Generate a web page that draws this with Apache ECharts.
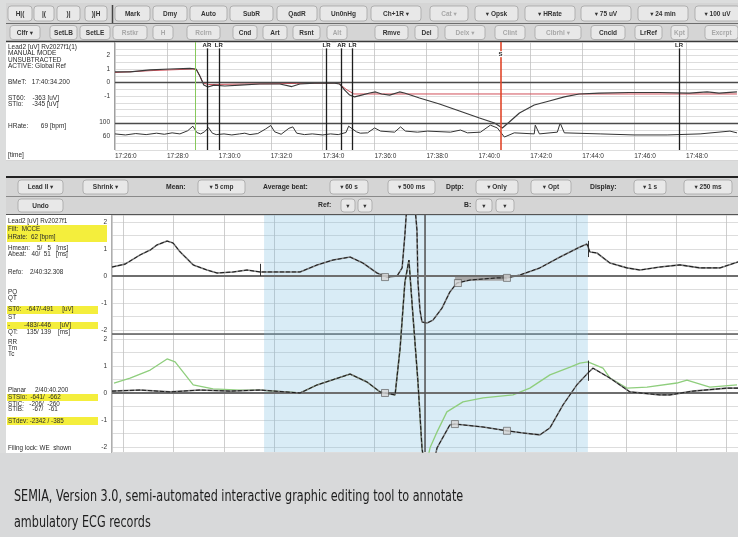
<!DOCTYPE html>
<html><head><meta charset="utf-8">
<script src="https://cdn.jsdelivr.net/npm/echarts@6/dist/echarts.min.js"></script>
<style>html,body{margin:0;padding:0;background:#dcdddd;}#c{width:738px;height:537px;}</style>
</head><body><div id="c"></div>
<script>
// ================= DATA =================
// Trend panel (minutes after 17:26:00)
const timeTickLabels = ['17:26:0','17:28:0','17:30:0','17:32:0','17:34:0','17:36:0','17:38:0','17:40:0','17:42:0','17:44:0','17:46:0','17:48:0'];
const stTickLabels = [2, 1, 0, -1];
const hrTickLabels = [100, 60];
// ST level trend [min, value]
const stTrend = [[0,0.78],[0.58,0.78],[1.35,0.93],[2.12,1.0],[2.88,1.04],[3.12,1.0],[3.27,0.48],[3.42,-0.19],[3.58,-0.33],[3.81,-0.19],[4.23,-0.26],[4.81,-0.19],[5.58,-0.11],[6.35,-0.11],[6.81,-0.3],[7.12,-0.11],[7.69,-0.04],[8.46,-0.04],[8.65,-0.11],[8.85,-0.56],[9.04,-0.93],[9.23,-1.07],[9.5,-0.93],[9.81,-0.78],[10.04,-0.7],[10.27,-0.85],[10.58,-0.93],[10.96,-0.7],[11.15,-0.78],[11.73,-1.15],[12.5,-1.59],[13.27,-2.11],[14.04,-2.63],[14.62,-3.0],[14.92,-3.37],[15.19,-2.93],[15.58,-2.26],[16.15,-1.67],[16.73,-1.37],[17.31,-1.07],[17.88,-0.85],[18.65,-0.78],[19.81,-0.74],[20.96,-0.74],[22.12,-0.78],[22.81,-0.7],[23.27,-0.78],[23.96,-0.7]];
// ST reference trend
const stReference = [[0,0.74],[1.5,0.89],[3.0,1.0],[3.15,0.93],[3.4,-0.04],[3.6,-0.15],[5.0,-0.11],[7.0,-0.07],[8.6,-0.04],[8.9,-0.5],[9.2,-0.85],[23.96,-0.85]];
// Heart rate trend [min, bpm]
const hrTrend = [[0,66],[0.4,63],[0.8,67],[1.2,64],[1.6,68],[1.9,65],[2.2,69],[2.5,66],[2.8,75],[3.0,88],[3.15,70],[3.3,66],[3.45,72],[3.6,84],[3.75,68],[3.9,64],[4.2,66],[4.5,63],[4.8,66],[5.0,68],[5.2,64],[5.5,67],[5.8,80],[6.0,90],[6.15,72],[6.4,65],[6.7,82],[6.85,86],[7.0,68],[7.3,64],[7.6,66],[8.0,63],[8.3,66],[8.6,64],[8.9,70],[9.0,88],[9.15,80],[9.3,72],[9.45,68],[9.73,69],[10.0,83],[10.23,74],[10.77,71],[11.0,86],[11.19,74],[11.65,71],[12.04,74],[12.92,71],[13.31,77],[13.58,69],[14.08,71],[14.46,91],[14.73,83],[15.0,57],[15.38,69],[16.15,66],[16.19,91],[16.35,66],[17.04,71],[17.15,97],[17.31,69],[18.69,66],[20.0,63],[21.27,63],[22.54,66],[23.69,74],[23.96,69]];
// Event markers
const markerTimes = [3.08, 3.54, 4.0, 8.15, 8.73, 9.15, 14.85, 21.73];
const markerNames = ['', 'AR', 'LR', 'LR', 'AR', 'LR', 'S', 'LR'];
const markerKinds = ['cursor', 'event', 'event', 'event', 'event', 'event', 'selected', 'event'];

// Average beat panel [ms from fiducial, mV]
const ecgTickLabels = [2, 1, 0, -1, -2];
const beatUpper = [[-1245,0.33],[-1193,0.44],[-1133,0.78],[-1093,0.96],[-1066,1.15],[-1026,1.29],[-1002,1.22],[-974,0.89],[-922,0.41],[-867,0.22],[-827,0.11],[-763,0.15],[-708,0.22],[-656,0.15],[-588,0.15],[-497,0.15],[-429,0.41],[-366,0.59],[-298,0.7],[-247,0.48],[-191,0.11],[-151,-0.04],[-111,0],[-91,0.3],[-80,1.52],[-72,2.62],[-60,3.2],[-44,3.0],[-32,1.7],[-28,-0.22],[-20,-1.26],[-12,-1.7],[8,-1.74],[32,-1.63],[68,-1.18],[99,-0.59],[127,-0.26],[179,-0.15],[231,-0.11],[286,-0.07],[326,-0.07],[378,0.04],[457,0.3],[537,0.7],[616,1.07],[644,1.18],[656,0.89],[684,0.85],[736,0.48],[803,0.3],[855,0.22],[934,0.33],[1014,0.41],[1093,0.3],[1173,0.3],[1245,0.52]];
const beatLowerDark = [[-1245,0.07],[-1133,0.11],[-1014,0.04],[-895,0.11],[-775,0.07],[-656,0.11],[-497,0],[-429,0.3],[-298,0.7],[-231,0.41],[-179,0.04],[-159,0],[-119,-0.07],[-99,1.66],[-80,4.1],[-64,4.92],[-48,2.88],[-28,0.41],[-12,-2.03],[0,-2.85],[28,-2.85],[48,-2.03],[99,-1.18],[119,-1.15],[231,-1.26],[326,-1.4],[390,-1.48],[457,-1.55],[497,-1.29],[549,-0.44],[604,0.3],[648,0.74],[668,0.92],[736,0.55],[815,0.04],[934,-0.07],[974,-0.07],[1066,0.07],[1201,0.18],[1245,0.18]];
const beatLowerRef = [[-1237,0.37],[-1173,0.55],[-1093,0.85],[-1026,1.26],[-994,1.15],[-922,0.3],[-843,0.15],[-736,0.11],[-656,0.11],[-497,0],[-429,0.3],[-298,0.7],[-231,0.41],[-179,0.04],[-119,-0.07],[-99,1.66],[-80,4.1],[-64,4.92],[-48,2.88],[-28,0.41],[-12,-2.03],[0,-2.9],[20,-2.03],[48,-1.44],[87,-0.7],[151,-0.33],[231,-0.18],[350,-0.07],[417,0.18],[497,0.67],[577,0.96],[616,1.11],[648,1.15],[708,0.92],[736,0.55],[803,0.18],[883,0.22],[1002,0.37],[1042,0.48],[1133,0.22],[1241,0.3]];
const fiducialsUpper = [[-159,-0.04],[131,-0.26],[326,-0.07]];
const fiducialsLower = [[-159,0],[119,-1.15],[326,-1.4]];
const analysisWindow = [-640, 648];
const stSegment = [119, 326, -0.18, -0.04];
const tWavePeak = 648;
const beatStart = -655;

// ================= LAYOUT / CHROME =================
const FONT = '"Liberation Sans", "DejaVu Sans", sans-serif';
const G = [];
function rect(x, y, w, h, fill, stroke, r, z) {
  G.push({type:'rect', z: z == null ? -20 : z, silent:true, shape:{x, y, width:w, height:h, r:r||0}, style:{fill, stroke: stroke||null, lineWidth: stroke?0.8:0}});
}
function hline(x1, x2, y, color, w, z) {
  G.push({type:'line', z: z == null ? -5 : z, silent:true, shape:{x1, y1:y, x2, y2:y}, style:{stroke:color, lineWidth:w}});
}
function vline(x, y1, y2, color, w, z) {
  G.push({type:'line', z: z == null ? -5 : z, silent:true, shape:{x1:x, y1, x2:x, y2}, style:{stroke:color, lineWidth:w}});
}
function txt(x, y, s, opt) {
  opt = opt || {};
  G.push({type:'text', z: 30, silent:true, x, y, scaleX: opt.sx || 1,
    style:{text:s, fill: opt.color || '#2a2a2a', font: (opt.bold?'bold ':'') + (opt.size||7) + 'px ' + (opt.family||FONT),
      align: opt.align || 'left', verticalAlign: 'middle'}});
}
function btn(x, y, w, h, s, dis) {
  rect(x, y, w, h, '#e8e8e8', '#a5a5a5', 3, -15);
  txt(x + w/2, y + h/2 + 0.5, s, {bold:true, size:6.5, align:'center', color: dis ? '#a8a8a8' : '#333'});
}

// top window
rect(6, 3, 732, 158, '#d5d5d5');
rect(6, 42, 732, 118, '#ffffff', null, 0, -19);
hline(6, 738, 23.5, '#6d6d6d', 1);
hline(6, 738, 41.5, '#3a3a3a', 1.5);
vline(112.5, 5, 23, '#444', 1.5);
vline(114.5, 42, 150, '#888', 0.8);
[[8,24,'H|('],[34,20,'|('],[57,23,')|'],[85,22,')|H'],[115,35,'Mark'],[153,34,'Dmy'],[190,37,'Auto'],[230,43,'SubR'],[277,40,'QadR'],[320,47,'Un0nHg'],[371,50,'Ch+1R ▾'],[430,38,'Cat ▾',1],[475,43,'▾ Opsk'],[525,50,'▾ HRate'],[581,50,'▾ 75 uV'],[638,50,'▾ 24 min'],[695,45,'▾ 100 uV']]
  .forEach(b => btn(b[0], 6, b[1], 15, b[2], b[3]));
[[10,30,'Clfr ▾'],[50,27,'SetLB'],[80,30,'SetLE'],[113,34,'Rstkr',1],[153,20,'H',1],[187,33,'Rclrn',1],[233,24,'Cnd'],[263,24,'Art'],[293,27,'Rsnt'],[327,20,'Alt',1],[375,33,'Rmve'],[415,23,'Del'],[445,40,'Delx ▾',1],[495,30,'Clint',1],[535,46,'Clbrhl ▾',1],[591,34,'Cncld'],[635,27,'LrRef'],[671,17,'Kpt',1],[705,33,'Excrpt',1]]
  .forEach(b => btn(b[0], 25.5, b[1], 14, b[2], b[3]));
// top info panel
[['Lead2 [uV] Rv2027f1(1)',47],['MANUAL MODE',53.5],['UNSUBTRACTED',60],['ACTIVE: Global Ref',66.5],['BMeT:   17:40:34.200',82],['ST60:    -363 [uV]',98.5],['STlo:     -345 [uV]',104.5],['HRate:       69 [bpm]',126],['[time]',155]]
  .forEach(t => txt(8, t[1], t[0], {size:6.5}));

// bottom window
rect(6, 177, 732, 277, '#d5d5d5');
rect(6, 215, 732, 238, '#ffffff', null, 0, -19);
hline(6, 738, 177, '#222', 2);
hline(6, 738, 196.5, '#8a8a8a', 1);
hline(6, 738, 214.5, '#555', 1.2);
hline(112, 738, 334, '#5a5a5a', 1.6, 1);
vline(111.5, 215, 453, '#999', 0.8);
[[18,45,'Lead II ▾'],[83,45,'Shrink ▾'],[198,47,'▾ 5 cmp'],[330,38,'▾ 60 s'],[388,47,'▾ 500 ms'],[476,42,'▾ Only'],[531,40,'▾ Opt'],[634,32,'▾ 1 s'],[684,48,'▾ 250 ms']]
  .forEach(b => btn(b[0], 180, b[1], 14, b[2], b[3]));
[['Mean:',166],['Average beat:',263],['Dptp:',446],['Display:',590]].forEach(t => txt(t[1], 187.5, t[0], {bold:true, size:6.8}));
[[18,45,'Undo'],[341,14,'▾'],[358,14,'▾'],[476,16,'▾'],[496,18,'▾']].forEach(b => btn(b[0], 199, b[1], 13, b[2], b[3]));
txt(318, 205.5, 'Ref:', {bold:true, size:6.8});
txt(464, 205.5, 'B:', {bold:true, size:6.8});
// bottom info panel
[[225,17,100],[306,8,91],[322,7,91],[394,7,91],[417,8,91]].forEach(h => rect(7, h[0], h[2], h[1], '#f4ee3c', null, 0, -10));
[['Lead2 [uV] Rv2027f1',221],['Filt:  MCCE',229.5],['HRate:  62 [bpm]',237.5],['Hmean:    5/   5   [ms]',248],['Abeat:   40/  51   [ms]',254],['Refo:    2/40:32.308',272],['PQ',292],['QT',298],['ST0:   -647/-491     [uV]',309.5],['ST',317],['-        -483/-446     [uV]',325.5],['QT:     135/ 139    [ms]',332],['RR',342],['Tm',348],['Tc',354],['Planar     2/40:40.200',390],['STSlo:  -641/  -662',397.5],['STIC:   -206/  -260',404],['STIB:     -67/   -61',409.5],['STdev: -2342 / -385',421],['Filing lock: WE  shown',448]]
  .forEach(t => txt(8, t[1], t[0], {size:6.3}));

// caption
rect(0, 453, 738, 84, '#d8d9da', null, 0, -20);
const CAP = '"Liberation Sans Narrow", "DejaVu Sans Condensed", "Roboto", sans-serif';
txt(14, 497, 'SEMIA, Version 3.0, semi-automated interactive graphic editing tool to annotate', {size:16.5, family:CAP, color:'#1c1c1c', sx:0.755});
txt(14, 523, 'ambulatory ECG records', {size:16.5, family:CAP, color:'#1c1c1c', sx:0.755});

// ================= CHART =================
const lblFmt = (set) => (v) => set.some(s => Math.abs(s - v) < 1e-6) ? String(Math.round(v)) : '';
const splitH = {show:true, lineStyle:{color:'#cfcfcf', width:0.7}};
const splitV = {show:true, lineStyle:{color:'#c2c2c2', width:0.8}};
const yLabel = {show:true, fontSize:6.5, color:'#333', margin:5, fontFamily:FONT};

const markerStyle = {
  cursor:   {color:'#86c95a', width:1},
  event:    {color:'#1e1e1e', width:1.3},
  selected: {color:'#e0462a', width:1.6}
};

const option = {
  animation: false,
  backgroundColor: '#dcdddd',
  graphic: {elements: G},
  grid: [
    {left:115, top:42, width:623, height:108},   // ST trend
    {left:115, top:122, width:623, height:28},   // HR trend
    {left:112, top:215, width:626, height:119},  // beat upper
    {left:112, top:334, width:626, height:118},  // beat lower (grid lines)
    {left:112, top:215, width:626, height:237}   // beat lower traces
  ],
  xAxis: [
    {gridIndex:0, type:'value', min:0, max:24, interval:2, axisLine:{show:false}, axisTick:{show:false}, splitLine:splitV,
      axisLabel:{show:true, align:'left', fontSize:6.5, color:'#333', margin:3, showMaxLabel:false, fontFamily:FONT,
        formatter:(v) => timeTickLabels[Math.round(v/2)] || ''}},
    {gridIndex:1, type:'value', min:0, max:24, show:false},
    {gridIndex:2, type:'value', min:-1245, max:1245, splitNumber:12, minInterval:200, maxInterval:200, axisLine:{show:false}, axisTick:{show:false}, axisLabel:{show:false}, splitLine:splitV},
    {gridIndex:3, type:'value', min:-1245, max:1245, splitNumber:12, minInterval:200, maxInterval:200, axisLine:{show:false}, axisTick:{show:false}, axisLabel:{show:false}, splitLine:splitV},
    {gridIndex:4, type:'value', min:-1245, max:1245, show:false}
  ],
  yAxis: [
    {gridIndex:0, type:'value', min:-5, max:3, interval:0.5, axisLine:{show:false}, axisTick:{show:false}, splitLine:splitH,
      axisLabel:Object.assign({formatter:lblFmt(stTickLabels)}, yLabel)},
    {gridIndex:1, type:'value', min:20, max:100, interval:20, axisLine:{show:false}, axisTick:{show:false}, splitLine:{show:false},
      axisLabel:Object.assign({formatter:lblFmt(hrTickLabels)}, yLabel)},
    {gridIndex:2, type:'value', min:-2.144, max:2.255, splitNumber:9, minInterval:0.5, maxInterval:0.5, axisLine:{show:false}, axisTick:{show:false}, splitLine:splitH,
      axisLabel:Object.assign({formatter:lblFmt(ecgTickLabels), showMinLabel:true, showMaxLabel:true}, yLabel)},
    {gridIndex:3, type:'value', min:-2.185, max:2.185, splitNumber:9, minInterval:0.5, maxInterval:0.5, axisLine:{show:false}, axisTick:{show:false}, splitLine:splitH,
      axisLabel:Object.assign({formatter:lblFmt(ecgTickLabels), showMinLabel:true, showMaxLabel:true}, yLabel)},
    {gridIndex:4, type:'value', min:-2.185, max:6.592, show:false}
  ],
  series: [
    // ---- trend ----
    {type:'line', xAxisIndex:0, yAxisIndex:0, data:stReference, symbol:'none', clip:false, lineStyle:{color:'#d0505a', width:1}, z:3},
    {type:'line', xAxisIndex:0, yAxisIndex:0, data:stTrend, symbol:'none', clip:false, lineStyle:{color:'#3a3a3a', width:1.2}, z:4,
      markLine:{silent:true, symbol:['none','none'], label:{show:false},
        data:[{yAxis:0, lineStyle:{color:'#4a4a4a', width:1.4, type:'solid'}}, {yAxis:-3, lineStyle:{color:'#4a4a4a', width:1.4, type:'solid'}}]
          .concat(markerTimes.map((t, i) => ({xAxis:t, lineStyle:Object.assign({type:'solid'}, markerStyle[markerKinds[i]])})))},
      markPoint:{silent:true, symbol:'circle', symbolSize:1, itemStyle:{color:'rgba(0,0,0,0)'},
        label:{show:true, position:'inside', formatter:'{b}', fontSize:6, fontWeight:'bold', color:'#222', backgroundColor:'#fff', padding:[0,1]},
        data:markerTimes.map((t, i) => ({name:markerNames[i], coord:[t, markerKinds[i]==='selected' ? 2.1 : 2.75]})).filter(d => d.name)}},
    {type:'line', xAxisIndex:1, yAxisIndex:1, data:hrTrend, symbol:'none', lineStyle:{color:'#333', width:1}, z:4},
    // ---- average beat ----
    {type:'line', xAxisIndex:4, yAxisIndex:4, data:[], symbol:'none', z:1,
      markArea:{silent:true, itemStyle:{color:'rgba(118,188,222,0.28)'}, data:[[{xAxis:analysisWindow[0]},{xAxis:analysisWindow[1]}]]},
      markLine:{silent:true, symbol:['none','none'], label:{show:false},
        data:[{yAxis:0, lineStyle:{color:'#6e6e6e', width:2, type:'solid'}}, {xAxis:0, lineStyle:{color:'#555', width:1.5, type:'solid'}}]}},
    {type:'line', xAxisIndex:2, yAxisIndex:2, data:beatUpper, symbol:'none', lineStyle:{color:'#7a7a7a', width:1.6}, z:3,
      markArea:{silent:true, itemStyle:{color:'#a9a9a9'}, data:[[{coord:[stSegment[0], stSegment[2]]},{coord:[stSegment[1], stSegment[3]]}]]},
      markLine:{silent:true, symbol:['none','none'], label:{show:false},
        data:[{yAxis:0, lineStyle:{color:'#6e6e6e', width:2, type:'solid'}},
          [{coord:[tWavePeak, 0.7], lineStyle:{color:'#333', width:1, type:'solid'}},{coord:[tWavePeak, 1.3]}],
          [{coord:[beatStart, 0], lineStyle:{color:'#333', width:1, type:'solid'}},{coord:[beatStart, 0.45]}]]}},
    {type:'line', xAxisIndex:2, yAxisIndex:2, data:beatUpper, symbol:'none', lineStyle:{color:'#1a1a1a', width:1, type:[4,2]}, z:4},
    {type:'line', xAxisIndex:4, yAxisIndex:4, data:beatLowerRef, symbol:'none', lineStyle:{color:'#8fce7d', width:1.3}, z:3},
    {type:'line', xAxisIndex:4, yAxisIndex:4, data:beatLowerDark, symbol:'none', lineStyle:{color:'#7a7a7a', width:1.6}, z:4,
      markLine:{silent:true, symbol:['none','none'], label:{show:false},
        data:[[{coord:[tWavePeak, 0.45], lineStyle:{color:'#333', width:1, type:'solid'}},{coord:[tWavePeak, 1.2]}]]}},
    {type:'line', xAxisIndex:4, yAxisIndex:4, data:beatLowerDark, symbol:'none', lineStyle:{color:'#1a1a1a', width:1, type:[4,2]}, z:5},
    {type:'scatter', xAxisIndex:2, yAxisIndex:2, data:fiducialsUpper, symbol:'rect', symbolSize:7, itemStyle:{color:'#d6d6d6', borderColor:'#555', borderWidth:0.8}, z:6},
    {type:'scatter', xAxisIndex:4, yAxisIndex:4, data:fiducialsLower, symbol:'rect', symbolSize:7, itemStyle:{color:'#d6d6d6', borderColor:'#555', borderWidth:0.8}, z:6}
  ]
};
const chart = echarts.init(document.getElementById('c'));
chart.setOption(option);
</script></body></html>
